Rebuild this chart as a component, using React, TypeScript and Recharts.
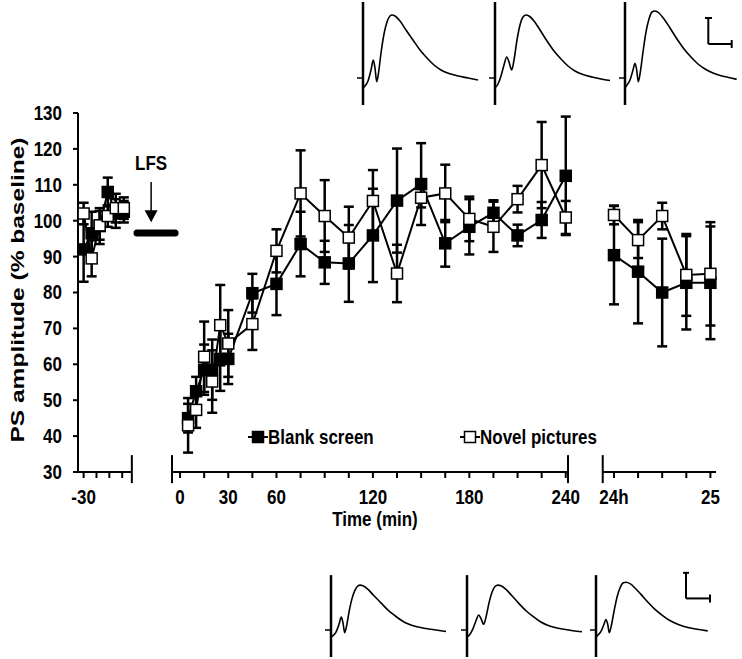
import React from "react";
import {
  ComposedChart,
  LineChart,
  Line,
  XAxis,
  YAxis,
  ErrorBar,
  ReferenceLine,
  Label,
} from "recharts";

// ---- data (PS amplitude, % of baseline, mean and SEM) ----
const BASELINE_MIN = [-30, -25, -20, -15, -10, -5];
const BASELINE_BLANK = [92, 96.5, 98.5, 108, 102, 102.5];
const BASELINE_BLANK_ERR = [9, 6, 5, 4, 4, 3];
const BASELINE_NOVEL = [102, 89.5, 98.7, 101.3, 103.5, 103.5];
const BASELINE_NOVEL_ERR = [3, 5, 4, 3, 4, 3];

const POST_MIN = [5, 10, 15, 20, 25, 30, 45, 60, 75, 90, 105, 120, 135, 150, 165, 180, 195, 210, 225, 240];
const POST_BLANK = [45, 52.5, 58.5, 58.5, 61.5, 61.5, 79.8, 82.4, 93.5, 88.4, 88.1, 95.9, 105.6, 110.2, 93.7, 98.3, 102.2, 95.9, 100.2, 112.5];
const POST_BLANK_ERR = [4, 4, 7, 8.4, 8.9, 7, 5.4, 8.7, 9, 6, 10.7, 13, 14.5, 11.4, 6.5, 7.7, 3.5, 3, 5, 16.5];
const POST_NOVEL = [43, 47.3, 62.1, 55.2, 70.9, 65.8, 71.2, 91.6, 107.6, 101.3, 95.3, 105.5, 85.3, 106.4, 107.6, 100.5, 98.3, 106, 115.5, 100.9];
const POST_NOVEL_ERR = [7.6, 5, 9.8, 8.7, 11.2, 9.3, 7.2, 6, 12, 10, 8.6, 8.6, 8, 2.7, 8, 6.2, 7, 3.7, 12, 4.6];

const DAY2_MIN = [0, 15, 30, 45, 60];
const DAY2_BLANK = [90.4, 85.8, 80, 82.7, 82.7];
const DAY2_BLANK_ERR = [13.7, 14.4, 15, 13, 15.7];
const DAY2_NOVEL = [101.6, 94.6, 101.3, 84.9, 85.2];
const DAY2_NOVEL_ERR = [2.6, 5, 3.7, 11.4, 14.4];

// broken time axis: each block is shifted onto one continuous scale
const BASELINE_SHIFT = -30;
const DAY2_SHIFT = 270;

const X_TICKS = [-60, -52, -44, -36, 0, 15, 30, 45, 60, 75, 90, 105, 120, 135, 150, 165, 180, 195, 210, 225, 240, 270, 285, 300, 315, 330];
const X_LABELS: Record<string, string> = {
  "-60": "-30",
  "0": "0",
  "30": "30",
  "60": "60",
  "120": "120",
  "180": "180",
  "240": "240",
  "270": "24h",
  "330": "25",
};
const Y_TICKS = [30, 40, 50, 60, 70, 80, 90, 100, 110, 120, 130];

// example traces (relative time, amplitude above baseline)
const TRACE_1 = [[0, -10], [2, -8], [5, -3], [8, 8], [10.3, 18], [12, 10], [13.7, -3.7], [15.5, 5], [18, 25], [21, 44], [24, 56], [27, 62], [29, 63], [32, 62], [37, 57], [43, 48], [50, 38], [57, 28], [64, 20], [71, 13], [78, 8], [86, 4.5], [95, 2], [105, 0], [115, -2]];
const TRACE_2 = [[0, -10], [3, -6], [6, 2], [9, 13], [11.7, 21], [14, 16], [16.7, 8], [19, 18], [22, 38], [25, 53], [28, 61], [31, 63], [34, 62], [39, 57], [45, 48], [52, 37], [59, 27], [66, 19], [73, 12], [80, 7], [88, 3.5], [97, 1], [106, -1], [115, -2.5]];
const TRACE_3 = [[0, -10], [2, -7], [5, -2], [8, 8], [10, 14.7], [11.7, 8], [13.3, -3.7], [15, 4], [18, 26], [21, 46], [24, 59], [27, 66], [30, 67], [34, 65], [39, 59], [45, 50], [52, 39], [59, 29], [66, 21], [73, 14], [80, 9], [88, 5], [97, 2], [106, 0], [111.7, -1.3]];

const FONT = '"Liberation Sans", Arial, sans-serif';
const STRETCH = 1.15; // the original figure is a bit taller than wide

// bold text, slightly stretched vertically like the source figure
function T({ x, y, anchor = "start", size = 17, dy, children }: any) {
  return (
    <text
      transform={`translate(${x} ${y}) scale(1 ${STRETCH})`}
      x={0}
      y={0}
      dy={dy}
      textAnchor={anchor}
      fontSize={size}
      fontWeight={700}
      fontFamily={FONT}
      fill="#000"
    >
      {children}
    </text>
  );
}

const XTick = (props: any) => {
  const { x, y, payload } = props;
  const label = X_LABELS[String(payload.value)];
  if (!label) return <g />;
  return (
    <T x={x} y={y} anchor="middle" dy="0.71em">
      {label}
    </T>
  );
};

const YTick = (props: any) => {
  const { x, y, payload } = props;
  return (
    <T x={x} y={y} anchor="end" dy="0.355em">
      {payload.value}
    </T>
  );
};

const build = (times: number[], shift: number, blank: number[], blankErr: number[], novel: number[], novelErr: number[]) =>
  times.map((t, i) => ({ x: t + shift, blank: blank[i], blankErr: blankErr[i], novel: novel[i], novelErr: novelErr[i] }));

const SEGMENTS = [
  build(BASELINE_MIN, BASELINE_SHIFT, BASELINE_BLANK, BASELINE_BLANK_ERR, BASELINE_NOVEL, BASELINE_NOVEL_ERR),
  build(POST_MIN, 0, POST_BLANK, POST_BLANK_ERR, POST_NOVEL, POST_NOVEL_ERR),
  build(DAY2_MIN, DAY2_SHIFT, DAY2_BLANK, DAY2_BLANK_ERR, DAY2_NOVEL, DAY2_NOVEL_ERR),
];

const square = (fill: string) => (props: any) => {
  const { cx, cy, index } = props;
  if (cx == null || cy == null) return <g key={index} />;
  return (
    <rect key={index} x={cx - 5.5} y={cy - 5.5} width={11} height={11} fill={fill} stroke="#000" strokeWidth={1.5} />
  );
};

const lfsArrow = (p: any) => {
  const { x1, y1, y2 } = p;
  return (
    <g>
      <T x={x1} y={y1 - 12} anchor="middle">
        LFS
      </T>
      <line x1={x1} y1={y1} x2={x1} y2={y2 - 10} stroke="#000" strokeWidth={1.5} />
      <polygon points={`${x1 - 6.5},${y2 - 12} ${x1 + 6.5},${y2 - 12} ${x1},${y2}`} fill="#000" />
    </g>
  );
};

const lfsBar = (p: any) => (
  <line x1={p.x1} y1={p.y1} x2={p.x2} y2={p.y2} stroke="#000" strokeWidth={7} strokeLinecap="round" />
);

// axis pieces between the breaks
const AXIS_PIECES = [
  [-63.5, -30],
  [-5, 241.4],
  [263, 333.5],
];
const BREAKS = [-30, -5, 241.4, 263];

function Trace({ data, left, top, width, height, yDomain, artifact, bar }: any) {
  const rows = data.map(([t, v]: number[]) => ({ t, v }));
  return (
    <div style={{ position: "absolute", left, top }}>
      <LineChart width={width} height={height} data={rows} margin={{ top: 0, right: 0, bottom: 0, left: 0 }}>
        <XAxis type="number" dataKey="t" domain={[-8, 118]} hide allowDataOverflow />
        <YAxis type="number" domain={yDomain} hide allowDataOverflow />
        <ReferenceLine segment={[{ x: 0, y: artifact[0] }, { x: 0, y: artifact[1] }]} stroke="#000" strokeWidth={2.5} ifOverflow="visible" />
        <ReferenceLine segment={[{ x: -6, y: 0 }, { x: 0, y: 0 }]} stroke="#000" strokeWidth={1.5} ifOverflow="visible" />
        <Line type="monotone" dataKey="v" stroke="#000" strokeWidth={1.6} dot={false} isAnimationActive={false} />
        {bar &&
          bar.map((s: number[], i: number) => (
            <ReferenceLine
              key={i}
              segment={[{ x: s[0], y: s[1] }, { x: s[2], y: s[3] }]}
              stroke="#000"
              strokeWidth={2}
              ifOverflow="visible"
            />
          ))}
      </LineChart>
    </div>
  );
}

const TOP_BAR = [
  [83.3, 60, 83.3, 34],
  [83.3, 34, 106.7, 34],
  [80, 60, 87, 60],
  [106.7, 38, 106.7, 30],
];
const BOTTOM_BAR = [
  [90, 80.2, 90, 44.3],
  [90, 44.3, 114, 44.3],
  [87, 80.2, 93, 80.2],
  [114, 49.9, 114, 38.7],
];

export default function App() {
  return (
    <div
      style={{
        position: "absolute",
        left: 0,
        top: 0,
        width: 742,
        height: 659,
        background: "#fff",
        overflow: "hidden",
        fontFamily: FONT,
      }}
    >
      <ComposedChart width={742} height={659} margin={{ top: 113, right: 16, bottom: 127, left: 18 }}>
        <XAxis
          type="number"
          dataKey="x"
          domain={[-63.5, 339.7]}
          allowDataOverflow
          ticks={X_TICKS}
          interval={0}
          axisLine={false}
          tickLine={{ stroke: "#000", strokeWidth: 2 }}
          tickSize={6}
          tickMargin={12}
          tick={XTick}
          height={60}
        >
          <Label
            content={() => (
              <T x={375} y={526} anchor="middle">
                Time (min)
              </T>
            )}
          />
        </XAxis>
        <YAxis
          type="number"
          domain={[30, 130]}
          ticks={Y_TICKS}
          interval={0}
          width={60}
          axisLine={{ stroke: "#000", strokeWidth: 2 }}
          tickLine={{ stroke: "#000", strokeWidth: 2 }}
          tickSize={5}
          tickMargin={11}
          tick={YTick}
        >
          <Label
            content={() => (
              <text
                x={24}
                y={290}
                transform="rotate(-90 24 290)"
                textAnchor="middle"
                fontSize={19}
                fontWeight={700}
                fontFamily={FONT}
                fill="#000"
                textLength={305}
                lengthAdjust="spacingAndGlyphs"
              >
                PS amplitude (% baseline)
              </text>
            )}
          />
        </YAxis>

        {AXIS_PIECES.map((p, i) => (
          <ReferenceLine key={`ax${i}`} segment={[{ x: p[0], y: 30 }, { x: p[1], y: 30 }]} stroke="#000" strokeWidth={2} ifOverflow="visible" />
        ))}
        {BREAKS.map((b, i) => (
          <ReferenceLine key={`br${i}`} segment={[{ x: b, y: 34.7 }, { x: b, y: 26.9 }]} stroke="#000" strokeWidth={2} ifOverflow="visible" />
        ))}

        <ReferenceLine segment={[{ x: -26.8, y: 96.6 }, { x: -3.1, y: 96.6 }]} shape={lfsBar} ifOverflow="visible" />
        <ReferenceLine segment={[{ x: -18, y: 110.8 }, { x: -18, y: 99.6 }]} shape={lfsArrow} ifOverflow="visible" />

        {SEGMENTS.map((seg, i) => (
          <Line
            key={`b${i}`}
            data={seg}
            dataKey="blank"
            type="linear"
            stroke="#000"
            strokeWidth={2}
            dot={square("#000")}
            activeDot={false}
            isAnimationActive={false}
          >
            <ErrorBar dataKey="blankErr" width={5} strokeWidth={2.5} stroke="#000" direction="y" />
          </Line>
        ))}
        {SEGMENTS.map((seg, i) => (
          <Line
            key={`n${i}`}
            data={seg}
            dataKey="novel"
            type="linear"
            stroke="#000"
            strokeWidth={2}
            dot={square("#fff")}
            activeDot={false}
            isAnimationActive={false}
          >
            <ErrorBar dataKey="novelErr" width={5} strokeWidth={2.5} stroke="#000" direction="y" />
          </Line>
        ))}
      </ComposedChart>

      {/* legend */}
      <svg style={{ position: "absolute", left: 246, top: 424 }} width={370} height={28}>
        <line x1={2} y1={13} x2={22} y2={13} stroke="#000" strokeWidth={2} />
        <rect x={6.5} y={7.5} width={11} height={11} fill="#000" stroke="#000" strokeWidth={1.5} />
        <T x={22} y={20}>
          Blank screen
        </T>
        <line x1={214} y1={13} x2={234} y2={13} stroke="#000" strokeWidth={2} />
        <rect x={218.5} y={7.5} width={11} height={11} fill="#fff" stroke="#000" strokeWidth={1.5} />
        <T x={234} y={20}>
          Novel pictures
        </T>
      </svg>

      {/* example traces, top row */}
      <Trace data={TRACE_1} left={355} top={0} width={126} height={106} yDomain={[-28, 78]} artifact={[76, -27]} />
      <Trace data={TRACE_2} left={487} top={0} width={126} height={106} yDomain={[-28, 78]} artifact={[76, -27]} />
      <Trace data={TRACE_3} left={617} top={0} width={126} height={106} yDomain={[-28, 78]} artifact={[76, -27]} bar={TOP_BAR} />

      {/* example traces, bottom row */}
      <Trace data={TRACE_1} left={323} top={570} width={126} height={87} yDomain={[-37.9, 84.2]} artifact={[77, -37.9]} />
      <Trace data={TRACE_2} left={459} top={570} width={126} height={87} yDomain={[-37.9, 84.2]} artifact={[77, -37.9]} />
      <Trace data={TRACE_3} left={588} top={570} width={126} height={87} yDomain={[-37.9, 84.2]} artifact={[77, -37.9]} bar={BOTTOM_BAR} />
    </div>
  );
}
